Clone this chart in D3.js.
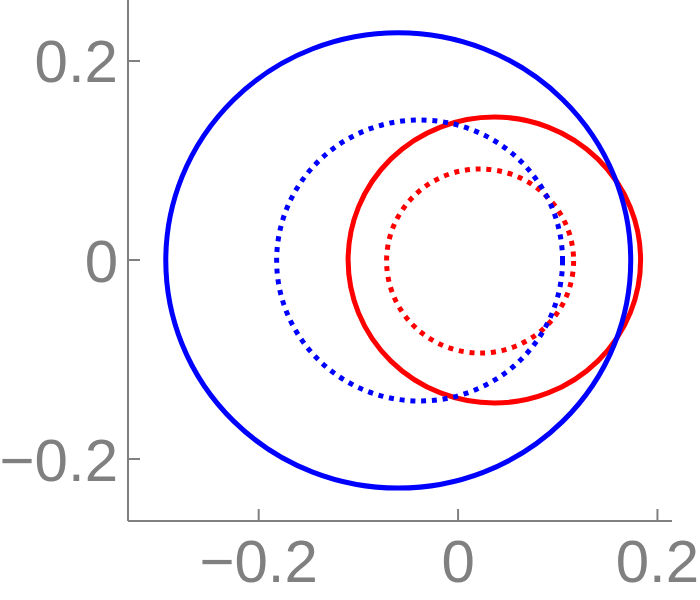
<!DOCTYPE html>
<html>
<head>
<meta charset="utf-8">
<script src="https://cdn.jsdelivr.net/npm/d3@7"></script>
<style>
  html, body { margin: 0; padding: 0; background: #fff; }
  svg { display: block; }
</style>
</head>
<body>
<svg id="chart" width="700" height="600"></svg>
<script>
// ---- data ----
const curveNames = ["red solid", "red dotted", "blue solid", "blue dotted"];
const curveColors = ["#ff0000", "#ff0000", "#0000ff", "#0000ff"];
const curveDotted = [false, true, false, true];
const centerX = [0.0364, 0.0221, -0.0600, -0.0386];
const centerY = [0.0, -0.001, -0.0004, -0.0005];
const radiusX = [0.1467, 0.0938, 0.2332, 0.1434];
const radiusY = [0.1437, 0.0925, 0.2288, 0.1412];
const xTicks = [-0.2, 0, 0.2];
const yTicks = [-0.2, 0, 0.2];
const xTickLabels = ["\u22120.2", "0", "0.2"];
const yTickLabels = ["\u22120.2", "0", "0.2"];

// ---- layout ----
const svg = d3.select("#chart");
const axisX = 128, axisY = 521;
const x = d3.scaleLinear().domain([-0.3311, 0.2146]).range([128, 672]);
const y = d3.scaleLinear().domain([-0.2623, 0.2613]).range([521, 0]);
const gray = "#808080";

// curves
const curves = curveNames.map((n, i) => ({
  name: n, color: curveColors[i], dotted: curveDotted[i],
  cx: centerX[i], cy: centerY[i], rx: radiusX[i], ry: radiusY[i]
}));

svg.append("g").selectAll("ellipse").data(curves).join("ellipse")
  .attr("cx", d => x(d.cx))
  .attr("cy", d => y(d.cy))
  .attr("rx", d => x(d.cx + d.rx) - x(d.cx))
  .attr("ry", d => y(d.cy) - y(d.cy + d.ry))
  .attr("fill", "none")
  .attr("stroke", d => d.color)
  .attr("stroke-width", 5)
  .attr("stroke-dasharray", d => d.dotted ? "5 5.8" : null);

// axes
const g = svg.append("g");
g.append("line").attr("x1", axisX).attr("x2", x.range()[1]).attr("y1", axisY).attr("y2", axisY)
  .attr("stroke", gray).attr("stroke-width", 2);
g.append("line").attr("x1", axisX).attr("x2", axisX).attr("y1", 0).attr("y2", axisY)
  .attr("stroke", gray).attr("stroke-width", 2);

g.selectAll(".xt").data(xTicks).join("line")
  .attr("x1", d => x(d)).attr("x2", d => x(d))
  .attr("y1", axisY).attr("y2", axisY - 12)
  .attr("stroke", gray).attr("stroke-width", 2);
g.selectAll(".yt").data(yTicks).join("line")
  .attr("x1", axisX).attr("x2", axisX + 12)
  .attr("y1", d => y(d)).attr("y2", d => y(d))
  .attr("stroke", gray).attr("stroke-width", 2);

g.selectAll(".xl").data(xTicks).join("text")
  .attr("x", d => x(d)).attr("y", axisY + 61)
  .attr("text-anchor", "middle")
  .attr("font-family", "Liberation Sans, Arial, sans-serif")
  .attr("font-size", 60).attr("fill", gray)
  .text((d, i) => xTickLabels[i]);
g.selectAll(".yl").data(yTicks).join("text")
  .attr("x", axisX - 10).attr("y", d => y(d) + 21.5)
  .attr("text-anchor", "end")
  .attr("font-family", "Liberation Sans, Arial, sans-serif")
  .attr("font-size", 60).attr("fill", gray)
  .text((d, i) => yTickLabels[i]);
</script>
</body>
</html>
